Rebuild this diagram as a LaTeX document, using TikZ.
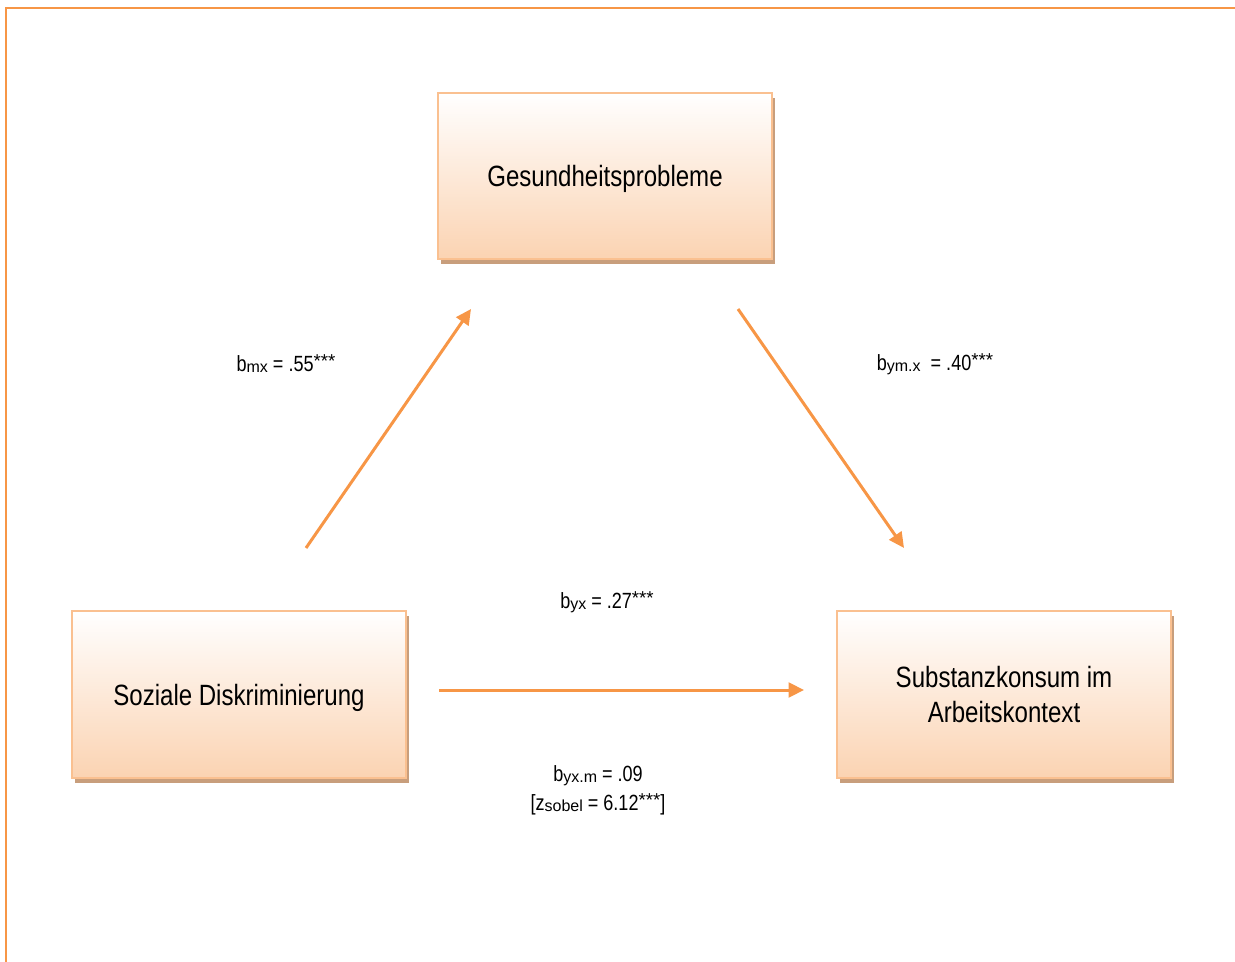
\documentclass[tikz,border=0pt]{standalone}
\usepackage{fontspec}
\setmainfont[FakeStretch=0.82]{Liberation Sans}
\newfontfamily\widefont{Liberation Sans}
\usepackage{xcolor}
\usetikzlibrary{arrows.meta, positioning, shadows}

\definecolor{arroworange}{HTML}{F79646}
\definecolor{boxline}{HTML}{FAC090}
\definecolor{boxfill}{HTML}{FBD3B2}
\definecolor{boxshadow}{RGB}{200,158,124}

\newcommand{\lsub}[1]{\raisebox{-0.75pt}{\widefont\fontsize{12pt}{12pt}\selectfont #1}}
\newcommand{\lsup}[1]{\raisebox{3pt}{\widefont\fontsize{14pt}{14pt}\selectfont #1}}

\tikzset{
  varbox/.style={rectangle, draw=boxline, line width=1.5pt,
    top color=white, bottom color=boxfill,
    minimum width=250pt, minimum height=125pt, align=center,
    font=\fontsize{22pt}{26pt}\selectfont, text depth=0pt,
    general shadow={fill=boxshadow, shadow xshift=2.25pt, shadow yshift=-3.75pt}},
  pathlabel/.style={align=center, font=\fontsize{16.5pt}{21.5pt}\selectfont},
  patharrow/.style={draw=arroworange, line width=2.25pt,
    -{Triangle[length=11.5pt,width=11pt]}}
}

\begin{document}
\begin{tikzpicture}[x=0.75pt, y=-0.75pt]
    \useasboundingbox (0,0) rectangle (1235,962);

    % frame
    \draw[arroworange, line width=1.5pt] (6,962) -- (6,8) -- (1235,8);

    % variables
    \node[varbox] (gesund) at (605,176) {Gesundheitsprobleme};
    \node[varbox] (diskr) at (239,694.5) {Soziale Diskriminierung};
    \node[varbox] (konsum) at (1004,694.5) {Substanzkonsum im\\Arbeitskontext};

    % arrow ends
    \coordinate (mxa) at (306,548);
    \coordinate (mxb) at (471,309);
    \coordinate (ymxa) at (738,309);
    \coordinate (ymxb) at (904,548);
    \coordinate (yxa) at (439,690);
    \coordinate (yxb) at (804,690);

    \draw[patharrow] (mxa) -- (mxb);
    \draw[patharrow] (ymxa) -- (ymxb);
    \draw[patharrow] (yxa) -- (yxb);

    % coefficients
    \node[pathlabel] (bmx) at (286,364) {b\lsub{mx} = .55\lsup{***}};
    \node[pathlabel] (bymx) at (935,364) {b\lsub{ym.x} \ = .40\lsup{***}};
    \node[pathlabel] (byx) at (607,602) {b\lsub{yx} = .27\lsup{***}};
    \node[pathlabel] (byxm) at (598,790) {b\lsub{yx.m} = .09\\{}[z\lsub{sobel} = 6.12\lsup{***}]};
  \end{tikzpicture}
\end{document}
